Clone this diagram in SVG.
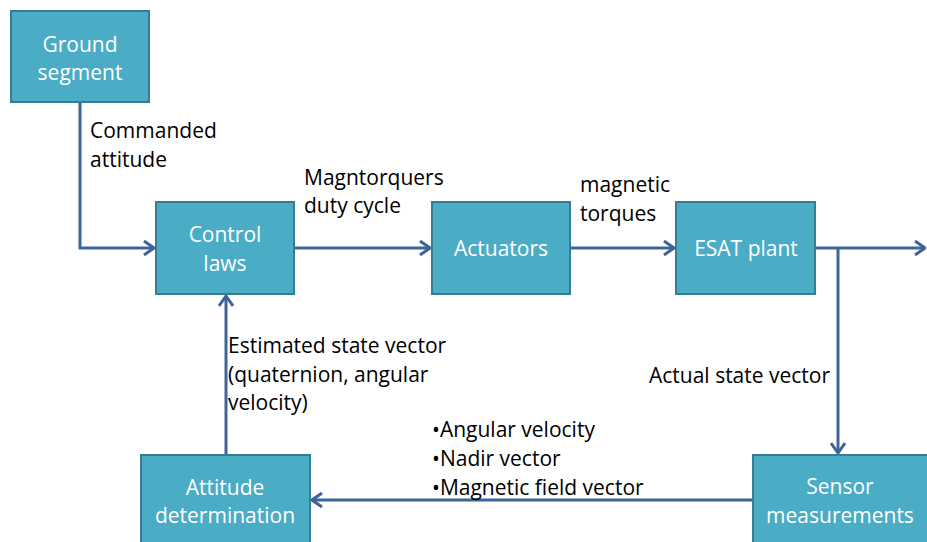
<svg xmlns="http://www.w3.org/2000/svg" width="927" height="542" viewBox="0 0 927 542">
<defs>
<style>
.box{fill:#4BACC6;stroke:#357D91;stroke-width:2}
.bt{fill:#FFFFFF;font-family:"Open Sans","Noto Sans",sans-serif;font-size:21px;text-anchor:middle}
.lbl{fill:#000000;font-family:"Open Sans","Noto Sans",sans-serif;font-size:21px}
.con{fill:none;stroke:#3D6598;stroke-width:3}
</style>
<marker id="arr" viewBox="0 0 12 16" refX="11" refY="8" markerWidth="12" markerHeight="16" markerUnits="userSpaceOnUse" orient="auto">
<path d="M1,1 L11,8 L1,15" fill="none" stroke="#3D6598" stroke-width="3"/>
</marker>
</defs>
<rect width="927" height="542" fill="#FFFFFF"/>
<g id="connectors">
<path class="con" d="M80,102 V248 H154" marker-end="url(#arr)"/>
<path class="con" d="M294,248 H430" marker-end="url(#arr)"/>
<path class="con" d="M570,248 H674" marker-end="url(#arr)"/>
<path class="con" d="M815,248 H925" marker-end="url(#arr)"/>
<path class="con" d="M838,248 V453" marker-end="url(#arr)"/>
<path class="con" d="M753,500 H312" marker-end="url(#arr)"/>
<path class="con" d="M226,454 V296" marker-end="url(#arr)"/>
</g>
<g id="ground">
<rect class="box" x="11" y="11" width="138" height="91"/>
<text class="bt" x="80" y="52">Ground</text>
<text class="bt" x="80" y="80">segment</text>
</g>
<g id="control">
<rect class="box" x="156" y="202" width="138" height="92"/>
<text class="bt" x="225" y="242">Control</text>
<text class="bt" x="225" y="271">laws</text>
</g>
<g id="actuators">
<rect class="box" x="432" y="202" width="138" height="92"/>
<text class="bt" x="501" y="256">Actuators</text>
</g>
<g id="esat">
<rect class="box" x="676" y="202" width="139" height="92"/>
<text class="bt" x="746" y="256">ESAT plant</text>
</g>
<g id="attitude">
<rect class="box" x="141" y="455" width="169" height="95"/>
<text class="bt" x="225" y="495">Attitude</text>
<text class="bt" x="225" y="523">determination</text>
</g>
<g id="sensor">
<rect class="box" x="753" y="455" width="185" height="95"/>
<text class="bt" x="840" y="494">Sensor</text>
<text class="bt" x="840" y="523">measurements</text>
</g>
<g id="labels">
<text class="lbl" x="90" y="138">Commanded</text>
<text class="lbl" x="90" y="167">attitude</text>
<text class="lbl" x="304" y="185">Magntorquers</text>
<text class="lbl" x="304" y="213">duty cycle</text>
<text class="lbl" x="580" y="192">magnetic</text>
<text class="lbl" x="580" y="221">torques</text>
<text class="lbl" x="228" y="353">Estimated state vector</text>
<text class="lbl" x="228" y="382">(quaternion, angular</text>
<text class="lbl" x="228" y="410">velocity)</text>
<text class="lbl" x="649" y="383">Actual state vector</text>
<text class="lbl" x="432" y="437">•Angular velocity</text>
<text class="lbl" x="432" y="466">•Nadir vector</text>
<text class="lbl" x="432" y="495">•Magnetic field vector</text>
</g>
</svg>
